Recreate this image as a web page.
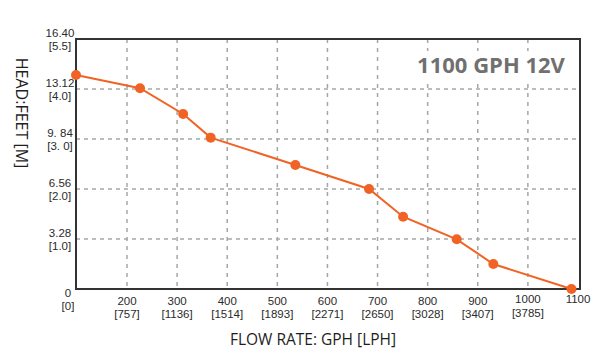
<!DOCTYPE html>
<html lang="en">
  <head>
    <meta charset="utf-8" />
    <title>1100 GPH 12V</title>
    <script src="https://d3js.org/d3.v7.min.js"></script>
    <style type="text/css">
      body { margin: 0; background: #fff; }
      .tick-label { font-family: 'Liberation Sans', Arial, sans-serif; font-size: 11.5px; fill: #2b2b2b; }
      .axis-title { font-family: 'Open Sans', sans-serif; fill: #1e1e1e; }
    </style>
  </head>
  <body>
    <script type="text/javascript">
      // Pump curve data (flow in GPH, head in feet)
      const flowGph = [0, 226, 312, 367, 536, 683, 751, 858, 931, 1087];
      const headFeet = [14.04, 13.17, 11.48, 9.93, 8.13, 6.56, 4.74, 3.26, 1.64, 0];

      // Tick labels
      const xTicks = [200, 300, 400, 500, 600, 700, 800, 900, 1000, 1100];
      const xTickLph = ['[757]', '[1136]', '[1514]', '[1893]', '[2271]', '[2650]', '[3028]', '[3407]', '[3785]', ''];
      const yTicks = [0, 3.28, 6.56, 9.84, 13.12, 16.4];
      const yTickFeet = ['0', '3.28', '6.56', '9. 84', '13.12', '16.40'];
      const yTickM = ['[0]', '[1.0]', '[2.0]', '[3. 0]', '[4.0]', '[5.5]'];

      const w = 610;
      const h = 362;
      const plotLeft = 76;
      const plotRight = 580;
      const plotTop = 39;
      const plotBottom = 289;
      const orange = '#f06324';

      // the axis jumps from 0 straight to 200, so use a two-piece scale
      const xScale = d3
        .scaleLinear()
        .domain([0, 200, 1104])
        .range([plotLeft, 127, plotRight]);

      const yScale = d3
        .scaleLinear()
        .domain([0, 16.4])
        .range([plotBottom, plotTop]);

      const svg = d3
        .select('body')
        .append('svg')
        .attr('width', w)
        .attr('height', h);

      // Grid lines
      svg
        .selectAll('.vgrid')
        .data(xTicks.slice(0, -1))
        .enter()
        .append('line')
        .attr('class', 'vgrid')
        .attr('x1', d => xScale(d))
        .attr('x2', d => xScale(d))
        .attr('y1', plotTop)
        .attr('y2', plotBottom)
        .attr('stroke', '#a6a6a6')
        .attr('stroke-width', 1.5)
        .attr('stroke-dasharray', '4,5');

      svg
        .selectAll('.hgrid')
        .data(yTicks.slice(1, -1))
        .enter()
        .append('line')
        .attr('class', 'hgrid')
        .attr('x1', plotLeft)
        .attr('x2', plotRight)
        .attr('y1', d => yScale(d))
        .attr('y2', d => yScale(d))
        .attr('stroke', '#a6a6a6')
        .attr('stroke-width', 1.5)
        .attr('stroke-dasharray', '4,4');

      // Title with white box behind it
      svg
        .append('rect')
        .attr('x', 410)
        .attr('y', 51)
        .attr('width', 166)
        .attr('height', 31)
        .attr('fill', '#fff');

      svg
        .append('text')
        .attr('x', 491)
        .attr('y', 73)
        .attr('text-anchor', 'middle')
        .style('font-family', "'Open Sans', sans-serif")
        .style('font-weight', 'bold')
        .style('font-size', '22px')
        .style('fill', '#707070')
        .text('1100 GPH 12V');

      // Frame
      svg
        .append('rect')
        .attr('x', plotLeft)
        .attr('y', plotTop)
        .attr('width', plotRight - plotLeft)
        .attr('height', plotBottom - plotTop)
        .attr('fill', 'none')
        .attr('stroke', '#333')
        .attr('stroke-width', 2);

      // Curve
      const points = flowGph.map((f, i) => [f, headFeet[i]]);
      const line = d3
        .line()
        .x(d => xScale(d[0]))
        .y(d => yScale(d[1]));

      svg
        .append('path')
        .datum(points)
        .attr('d', line)
        .attr('fill', 'none')
        .attr('stroke', orange)
        .attr('stroke-width', 2);

      svg
        .selectAll('circle')
        .data(points)
        .enter()
        .append('circle')
        .attr('cx', d => xScale(d[0]))
        .attr('cy', d => yScale(d[1]))
        .attr('r', 5)
        .attr('fill', orange);

      // Y tick labels (feet over metres)
      const yLab = svg
        .selectAll('.ylab')
        .data(yTicks)
        .enter()
        .append('g')
        .attr('class', 'ylab')
        .attr('transform', d => `translate(${d === 0 ? 68 : 60}, ${yScale(d)})`);

      yLab
        .append('text')
        .attr('class', 'tick-label')
        .attr('text-anchor', 'middle')
        .attr('y', d => (d === 0 ? 8 : -2))
        .text((d, i) => yTickFeet[i]);

      yLab
        .append('text')
        .attr('class', 'tick-label')
        .attr('text-anchor', 'middle')
        .attr('y', d => (d === 0 ? 21 : 11))
        .text((d, i) => yTickM[i]);

      // X tick labels (GPH over LPH)
      const xLab = svg
        .selectAll('.xlab')
        .data(xTicks)
        .enter()
        .append('g')
        .attr('class', 'xlab')
        .attr('transform', d => `translate(${xScale(d)}, ${plotBottom})`);

      xLab
        .append('text')
        .attr('class', 'tick-label')
        .attr('text-anchor', 'middle')
        .attr('y', d => (d >= 1000 ? 14 : 15.5))
        .text(d => d);

      xLab
        .append('text')
        .attr('class', 'tick-label')
        .attr('text-anchor', 'middle')
        .attr('y', d => (d >= 1000 ? 27.5 : 28.5))
        .text((d, i) => xTickLph[i]);

      // Axis names
      svg
        .append('text')
        .attr('class', 'axis-title')
        .attr('transform', 'translate(16, 113) rotate(90)')
        .attr('text-anchor', 'middle')
        .style('font-size', '16px')
        .text('HEAD:FEET [M]');

      svg
        .append('text')
        .attr('class', 'axis-title')
        .attr('x', 313)
        .attr('y', 345)
        .attr('text-anchor', 'middle')
        .style('font-size', '15.5px')
        .text('FLOW RATE: GPH [LPH]');
    </script>
  </body>
</html>
